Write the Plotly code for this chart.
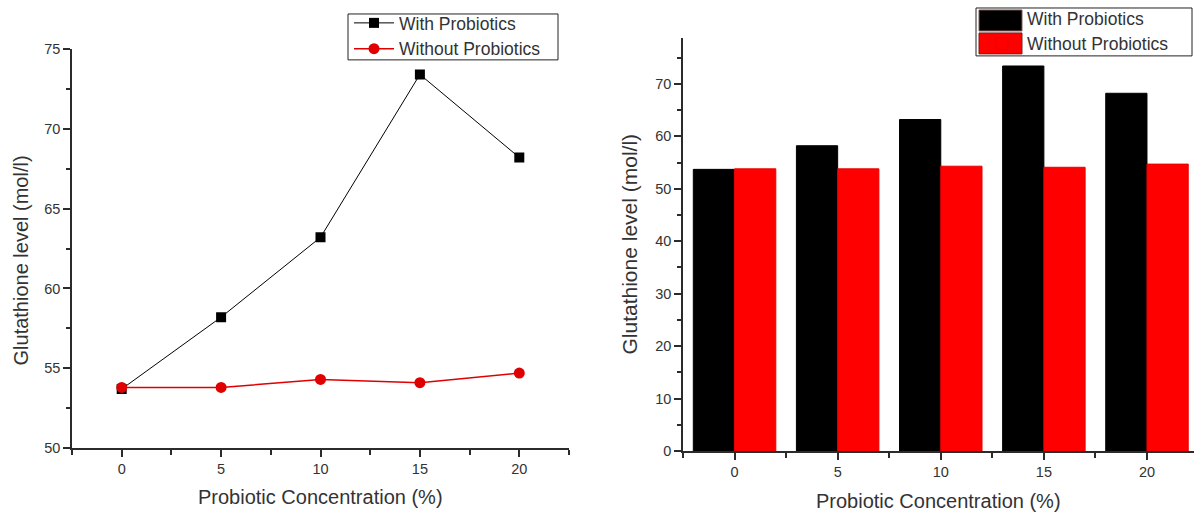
import plotly.graph_objects as go

concentration = [0, 5, 10, 15, 20]
with_probiotics = [53.7, 58.2, 63.2, 73.4, 68.2]
without_probiotics = [53.8, 53.8, 54.3, 54.1, 54.7]
series_names = ["With Probiotics", "Without Probiotics"]
x_title = "Probiotic Concentration (%)"
y_title = "Glutathione level (mol/l)"

W, H = 1194, 514
FONT = "Arial, Liberation Sans, sans-serif"
AX = "#2b2b2b"
TXT = "#333333"
LEG_FONT = 17.5

fig = go.Figure()

# Left: line chart
fig.add_trace(go.Scatter(
    x=concentration, y=with_probiotics, name=series_names[0], mode="lines+markers",
    line=dict(color="black", width=1),
    marker=dict(symbol="square", size=10, color="black"),
    xaxis="x", yaxis="y", legend="legend"))
fig.add_trace(go.Scatter(
    x=concentration, y=without_probiotics, name=series_names[1], mode="lines+markers",
    line=dict(color="#e00000", width=1.5),
    marker=dict(symbol="circle", size=11, color="#e00000"),
    xaxis="x", yaxis="y", legend="legend"))

# Right: grouped bars
fig.add_trace(go.Bar(
    x=concentration, y=with_probiotics, name=series_names[0],
    marker=dict(color="black", line=dict(color="black", width=1)),
    xaxis="x2", yaxis="y2", legend="legend2"))
fig.add_trace(go.Bar(
    x=concentration, y=without_probiotics, name=series_names[1],
    marker=dict(color="#ff0000", line=dict(color="#e80000", width=1)),
    xaxis="x2", yaxis="y2", legend="legend2"))


def px_x(p):
    return p / W


def px_y(p):
    return 1 - p / H


axis_common = dict(
    showline=True, linecolor=AX, linewidth=1.5, showgrid=False, zeroline=False,
    ticks="outside", tickcolor=AX, tickwidth=1.5, ticklen=7,
    tickfont=dict(family=FONT, size=14.5, color=TXT),
    automargin=False, mirror=False,
)


def rect(x0, y0, x1, y1, fill, line_color, lw=1):
    return dict(type="rect", xref="paper", yref="paper",
                x0=px_x(x0), x1=px_x(x1), y0=px_y(y1), y1=px_y(y0),
                fillcolor=fill, line=dict(color=line_color, width=lw), layer="below")


shapes = [
    # legend frames
    rect(348, 13, 558, 59, "white", "#222222"),
    rect(976, 7, 1192, 55, "white", "#222222"),
    # bar legend swatches
    rect(979, 9, 1022, 30, "black", "#7a5a5a"),
    rect(979, 32, 1022, 53, "#ff0000", "#7a2020"),
]

fig.update_layout(
    width=W, height=H,
    margin=dict(l=0, r=0, t=0, b=0),
    paper_bgcolor="white", plot_bgcolor="rgba(0,0,0,0)",
    barmode="group", bargap=0.2, bargroupgap=0,
    xaxis=dict(domain=[px_x(72), px_x(569)], range=[-2.5, 22.5], anchor="y",
               tick0=0, dtick=5,
               minor=dict(tick0=0, dtick=2.5, ticks="outside", ticklen=5, tickcolor=AX, tickwidth=1.5),
               **axis_common),
    yaxis=dict(domain=[px_y(448), px_y(48)], range=[50, 75], anchor="x",
               tick0=50, dtick=5,
               minor=dict(tick0=50, dtick=2.5, ticks="outside", ticklen=4, tickcolor=AX, tickwidth=1.5),
               **axis_common),
    xaxis2=dict(domain=[px_x(683), 1.0], range=[-2.5, 22.28], anchor="y2",
                tick0=0, dtick=5,
                minor=dict(tick0=0, dtick=2.5, ticks="outside", ticklen=5, tickcolor=AX, tickwidth=1.5),
                **axis_common),
    yaxis2=dict(domain=[px_y(451), px_y(37)], range=[0, 78.75], anchor="x2",
                tick0=0, dtick=10,
                minor=dict(tick0=0, dtick=5, ticks="outside", ticklen=4, tickcolor=AX, tickwidth=1.5),
                **axis_common),
    legend=dict(x=px_x(349), y=px_y(5), xanchor="left", yanchor="top",
                bgcolor="rgba(0,0,0,0)", borderwidth=0,
                font=dict(family=FONT, size=LEG_FONT, color=TXT),
                itemwidth=40, tracegroupgap=0),
    legend2=dict(x=px_x(977), y=px_y(-1), xanchor="left", yanchor="top",
                 bgcolor="rgba(0,0,0,0)", borderwidth=0,
                 font=dict(family=FONT, size=LEG_FONT, color=TXT),
                 itemwidth=40, tracegroupgap=0),
    shapes=shapes,
    annotations=[
        dict(text=x_title, x=px_x((72 + 569) / 2), y=px_y(497), xref="paper", yref="paper",
             showarrow=False, xanchor="center", yanchor="middle",
             font=dict(family=FONT, size=20, color=TXT)),
        dict(text=y_title, x=px_x(21), y=px_y(260), xref="paper", yref="paper",
             showarrow=False, xanchor="center", yanchor="middle", textangle=-90,
             font=dict(family=FONT, size=20, color=TXT)),
        dict(text=x_title, x=px_x((683 + 1194) / 2), y=px_y(501), xref="paper", yref="paper",
             showarrow=False, xanchor="center", yanchor="middle",
             font=dict(family=FONT, size=20, color=TXT)),
        dict(text=y_title, x=px_x(630), y=px_y(244), xref="paper", yref="paper",
             showarrow=False, xanchor="center", yanchor="middle", textangle=-90,
             font=dict(family=FONT, size=21, color=TXT)),
    ],
)

fig.write_html("out.html")
